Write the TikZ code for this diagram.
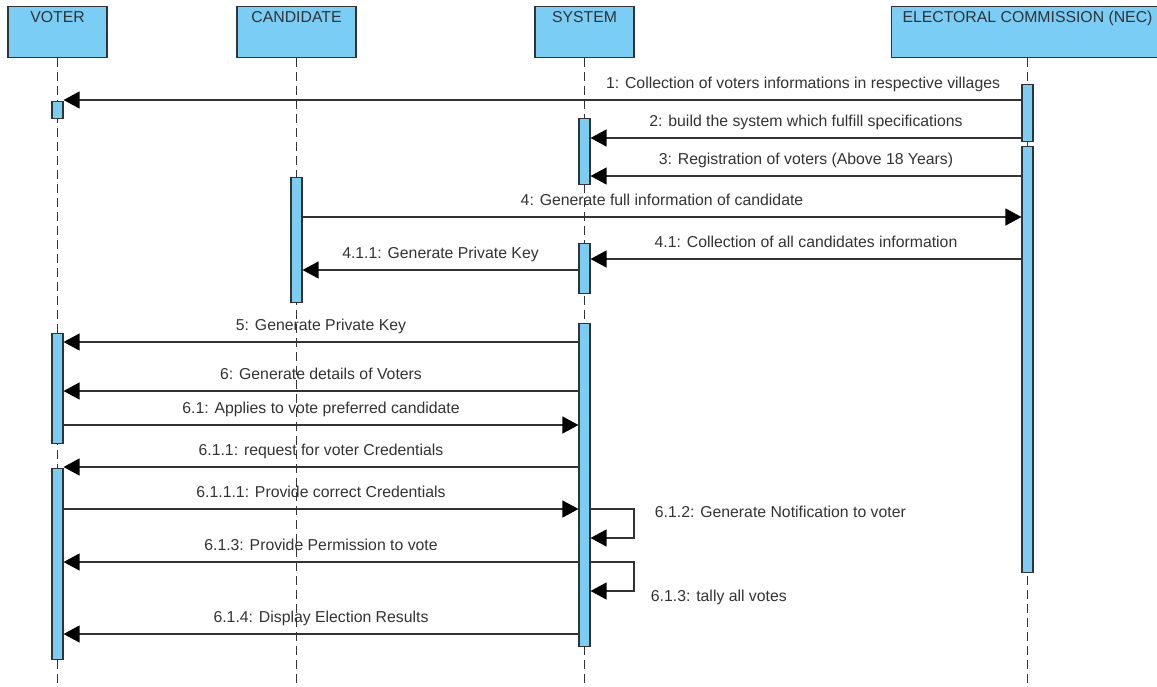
\documentclass[tikz,border=0pt]{standalone}
\usepackage{fontspec}
\setmainfont{Liberation Sans}
\usepackage{xcolor}
\usetikzlibrary{arrows.meta}
\definecolor{lifeblue}{HTML}{7ACDF4}
\definecolor{inkgray}{HTML}{333333}

\begin{document}
\begin{tikzpicture}[x=1pt,y=-1pt,font=\fontsize{15.8}{19}\selectfont,
  head/.style={draw=inkgray,fill=lifeblue,line width=1.2pt,anchor=north,text=inkgray,
    minimum height=51pt,text height=12pt,text depth=31pt,inner ysep=4pt},
  bar/.style={draw=inkgray,fill=lifeblue,line width=1.1pt,anchor=north,
    minimum width=11pt,inner sep=0pt},
  life/.style={draw=inkgray,line width=1.1pt,dash pattern=on 9pt off 5pt},
  msg/.style={-{Triangle[length=16pt,width=17pt,black]},line width=1.2pt,draw=inkgray},
  lbl/.style={anchor=base,yshift=12pt,text=inkgray},
  side/.style={anchor=base west,text=inkgray}]
 \useasboundingbox (0,0) rectangle (1157,686);
 \clip (0,0) rectangle (1157,686);
 \node[head,minimum width=99pt] (voter) at (57.5,6) {VOTER};
 \node[head,minimum width=119pt] (cand) at (296.5,6) {CANDIDATE};
 \node[head,minimum width=99pt] (sys) at (584.5,6) {SYSTEM};
 \node[head,minimum width=272pt] (nec) at (1027.5,6) {ELECTORAL COMMISSION (NEC)};
 \coordinate (bottom) at (0,686);
 \foreach \h in {voter,cand,sys,nec}
   \draw[life] (\h.south) -- (\h.south |- bottom);
 \node[bar,minimum height=17pt] (v1) at (voter.south |- 0,101) {};
 \node[bar,minimum height=110pt] (v2) at (voter.south |- 0,333) {};
 \node[bar,minimum height=191pt] (v3) at (voter.south |- 0,468) {};
 \node[bar,minimum height=125pt] (c1) at (cand.south |- 0,177) {};
 \node[bar,minimum height=66pt] (s1) at (sys.south |- 0,118) {};
 \node[bar,minimum height=50pt] (s2) at (sys.south |- 0,243) {};
 \node[bar,minimum height=323pt] (s3) at (sys.south |- 0,323) {};
 \node[bar,minimum height=57pt] (n1) at (nec.south |- 0,84) {};
 \node[bar,minimum height=426pt] (n2) at (nec.south |- 0,146) {};
 \draw[msg] (n1.west |- 0,100) -- node[lbl,pos=.228] {1: Collection of voters informations in respective villages} (v1.east |- 0,100);
 \draw[msg] (n1.west |- 0,138) -- node[lbl] {2: build the system which fulfill specifications} (s1.east |- 0,138);
 \draw[msg] (n2.west |- 0,176) -- node[lbl] {3: Registration of voters (Above 18 Years)} (s1.east |- 0,176);
 \draw[msg] (c1.east |- 0,217) -- node[lbl] {4: Generate full information of candidate} (n2.west |- 0,217);
 \draw[msg] (n2.west |- 0,259) -- node[lbl] {4.1: Collection of all candidates information} (s2.east |- 0,259);
 \draw[msg] (s2.west |- 0,270) -- node[lbl] {4.1.1: Generate Private Key} (c1.east |- 0,270);
 \draw[msg] (s3.west |- 0,342) -- node[lbl] {5: Generate Private Key} (v2.east |- 0,342);
 \draw[msg] (s3.west |- 0,391) -- node[lbl] {6: Generate details of Voters} (v2.east |- 0,391);
 \draw[msg] (v2.east |- 0,425) -- node[lbl] {6.1: Applies to vote preferred candidate} (s3.west |- 0,425);
 \draw[msg] (s3.west |- 0,467) -- node[lbl] {6.1.1: request for voter Credentials} (v3.east |- 0,467);
 \draw[msg] (v3.east |- 0,509) -- node[lbl] {6.1.1.1: Provide correct Credentials} (s3.west |- 0,509);
 \draw[msg] (s3.east |- 0,509) -- (634,509) node[side,xshift=17pt,yshift=-8pt] {6.1.2: Generate Notification to voter}
   -- (634,538) -- (s3.east |- 0,538);
 \draw[msg] (s3.west |- 0,562) -- node[lbl] {6.1.3: Provide Permission to vote} (v3.east |- 0,562);
 \draw[msg] (s3.east |- 0,562) -- (634,562) -- (634,591) node[side,xshift=13pt,yshift=-10pt] {6.1.3: tally all votes}
   -- (s3.east |- 0,591);
 \draw[msg] (s3.west |- 0,634) -- node[lbl] {6.1.4: Display Election Results} (v3.east |- 0,634);
\end{tikzpicture}
\end{document}
